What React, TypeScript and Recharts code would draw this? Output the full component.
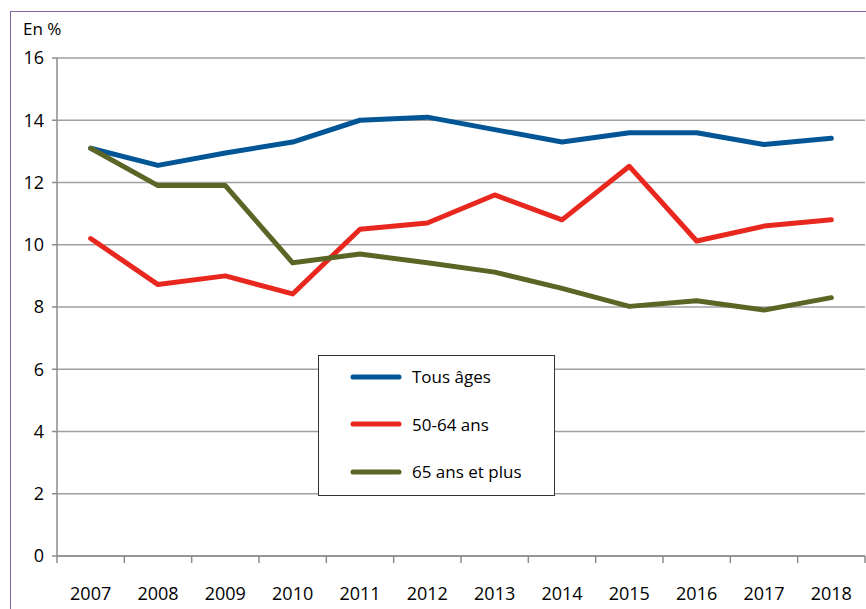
import { LineChart, Line, XAxis, YAxis, CartesianGrid, Legend } from "recharts";

const years = ["2007", "2008", "2009", "2010", "2011", "2012", "2013", "2014", "2015", "2016", "2017", "2018"];
const tousAges = [13.1, 12.55, 12.95, 13.3, 14.0, 14.1, 13.7, 13.3, 13.6, 13.6, 13.22, 13.42];
const ans5064 = [10.2, 8.72, 9.0, 8.42, 10.5, 10.7, 11.6, 10.8, 12.52, 10.12, 10.6, 10.8];
const ans65plus = [13.1, 11.9, 11.9, 9.42, 9.7, 9.42, 9.12, 8.6, 8.02, 8.2, 7.9, 8.3];
const seriesNames = ["Tous âges", "50-64 ans", "65 ans et plus"];
const yTicks = [0, 2, 4, 6, 8, 10, 12, 14, 16];

const data = years.map((year, i) => ({
  year,
  tous: tousAges[i],
  a5064: ans5064[i],
  a65: ans65plus[i],
}));

// boundaries get a tick mark, centres get the year label
const edgeTicks = years.flatMap((_, i) => [i, i + 0.5]).concat(years.length);

const FONT = "'Open Sans', sans-serif";

const EdgeTick = (props: any) => {
  const { x, y, payload } = props;
  const v = payload.value as number;
  if (Number.isInteger(v)) {
    return <line x1={x} x2={x} y1={y} y2={y + 7} stroke="#8c8c8c" strokeWidth={1.5} />;
  }
  return (
    <text x={x} y={y + 44} textAnchor="middle" fontFamily={FONT} fontSize={18} fill="#000">
      {years[Math.floor(v)]}
    </text>
  );
};

const LegendBox = (props: any) => {
  const items = [...(props.payload || [])].sort(
    (a: any, b: any) => seriesNames.indexOf(a.value) - seriesNames.indexOf(b.value)
  );
  // zero-height wrapper so the legend does not shrink the plot
  return (
    <div style={{ position: "relative", height: 0 }}>
      <div
        style={{
          position: "absolute",
          left: 0,
          top: 0,
          width: 237,
          height: 141,
          border: "1px solid #333",
          background: "#fff",
          boxSizing: "border-box",
        }}
      >
        <div style={{ position: "relative", top: -3 }}>
          {items.map((entry: any) => (
            <div key={entry.value} style={{ display: "flex", alignItems: "center", height: 47.5 }}>
              <svg width={93} height={10}>
                <line x1={34} x2={80} y1={5} y2={5} stroke={entry.color} strokeWidth={5} strokeLinecap="round" />
              </svg>
              <span style={{ fontFamily: FONT, fontSize: 17, color: "#000" }}>{entry.value}</span>
            </div>
          ))}
        </div>
      </div>
    </div>
  );
};

export default function App() {
  return (
    <div style={{ position: "absolute", left: 0, top: 0, width: 866, height: 609, background: "#fff", overflow: "hidden" }}>
      <div
        style={{
          position: "absolute",
          left: 10,
          top: 11,
          width: 900,
          height: 700,
          borderLeft: "1.5px solid #8064A2",
          borderTop: "1.5px solid #8064A2",
        }}
      />
      <div style={{ position: "absolute", left: 23, top: 17, fontFamily: FONT, fontSize: 17, color: "#000" }}>En %</div>
      <LineChart width={866} height={609} data={data} margin={{ top: 58, right: 1, bottom: 0, left: 0 }}>
        <CartesianGrid vertical={false} stroke="#a0a0a0" strokeWidth={1.5} />
        <XAxis xAxisId="edges" dataKey="noField" type="number" domain={[0, years.length]} ticks={edgeTicks} interval={0}
          allowDataOverflow height={53} tickSize={0} tickMargin={0} tickLine={false} tick={<EdgeTick />}
          axisLine={{ stroke: "#8c8c8c", strokeWidth: 1.5 }} />
        <XAxis xAxisId="cat" dataKey="year" scale="band" height={0} hide />
        <YAxis
          width={57}
          domain={[0, 16]}
          ticks={yTicks}
          interval={0}
          tickSize={5}
          tickMargin={8}
          tickLine={{ stroke: "#8c8c8c", strokeWidth: 1.5 }}
          axisLine={{ stroke: "#8c8c8c", strokeWidth: 1.5 }}
          tick={{ fontFamily: FONT, fontSize: 18, fill: "#000" }}
        />
        <Legend
          content={<LegendBox />}
          wrapperStyle={{ position: "absolute", left: 318, top: 355, width: 237, height: 0, bottom: "auto" }}
        />
        <Line xAxisId="cat" name={seriesNames[0]} dataKey="tous" stroke="#035696" strokeWidth={5} dot={false} strokeLinecap="round" strokeLinejoin="round" isAnimationActive={false} />
        <Line xAxisId="cat" name={seriesNames[1]} dataKey="a5064" stroke="#E8281E" strokeWidth={5} dot={false} strokeLinecap="round" strokeLinejoin="round" isAnimationActive={false} />
        <Line xAxisId="cat" name={seriesNames[2]} dataKey="a65" stroke="#5A6526" strokeWidth={5} dot={false} strokeLinecap="round" strokeLinejoin="round" isAnimationActive={false} />
      </LineChart>
    </div>
  );
}
